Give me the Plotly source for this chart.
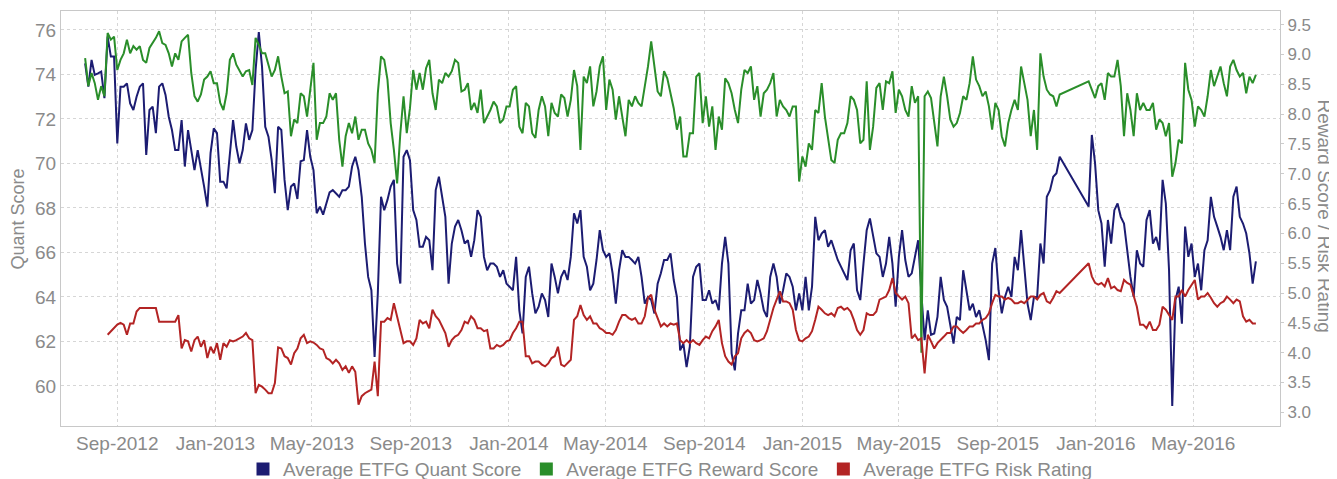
import pandas as pd
import plotly.graph_objects as go

# Sample dates (every 4 days, Jul 2012 - Jul 2016)
dates = pd.date_range("2012-07-23", periods=365, freq="4D")

GAP = [None] * 8  # no data late Nov - mid Dec 2015

quant_score = [
    74.5, 73.45, 74.65, 73.98, 74.05, 74.13, 72.93, 75.7, 74.8, 74.8,
    70.9, 73.45, 73.45, 73.6, 72.7, 72.4, 73.0, 73.45, 73.6, 70.38,
    72.4, 72.55, 71.36, 73.45, 73.6, 73.08, 72.1, 71.5, 70.6, 70.6,
    71.95, 69.86, 71.5, 70.6, 69.7, 70.6, 69.86, 68.96, 68.06, 70.46,
    71.58, 71.36, 69.18, 69.18, 68.88, 70.46, 71.95, 70.76, 70.0, 70.6,
    71.8, 71.06, 71.5, 74.2, 75.9, 74.35, 71.65, 71.2, 70.16, 68.66,
    71.65, 71.5, 69.26,
    67.9, 68.96, 69.1, 68.4, 70.1, 70.15, 71.5, 70.3, 69.7, 67.76,
    68.06, 67.7, 68.2, 68.7, 68.8, 68.66, 68.5, 68.8, 68.8, 68.96,
    69.86, 70.3, 69.7, 68.5, 66.4, 64.9, 64.3, 61.3, 64.15, 68.5,
    67.9, 68.36, 68.96, 69.26, 65.5, 64.6, 70.3, 70.6, 70.15, 67.9,
    67.46, 66.26, 66.26, 66.7, 66.55, 65.2, 68.8, 69.4, 68.5, 67.6,
    64.6, 66.4, 67.16, 67.46, 67.0, 66.4, 66.55, 65.8, 66.55, 67.9,
    67.6, 65.8,
    65.2, 65.5, 65.5, 65.36, 64.9, 65.2, 64.6, 64.46, 64.3, 65.8,
    63.4, 62.36, 64.9, 65.36, 64.16, 63.26, 63.56, 64.16, 63.86, 63.1,
    65.5, 64.9, 64.16, 64.9, 65.2, 64.76, 65.8, 67.76, 67.3, 67.9,
    65.8, 65.36, 64.3, 64.6, 65.66, 67.0, 66.1, 65.8, 65.96, 65.06,
    63.7, 65.2, 66.1, 65.8, 65.8, 65.66, 65.5, 65.8, 64.9, 63.7,
    64.0, 63.86, 63.26, 64.6, 65.06, 65.66, 65.66, 65.96, 64.76, 64.0,
    61.6, 61.9,
    60.85, 61.76, 64.9, 65.36, 65.5, 63.86, 63.86, 64.3, 63.7, 63.86,
    63.4, 65.5, 66.7, 65.5, 61.46, 60.7, 62.36, 63.4, 63.4, 64.6,
    63.7, 63.86, 64.76, 64.16, 63.4, 63.1, 64.9, 65.5, 64.9, 63.7,
    64.3, 65.06, 64.9, 64.46, 63.4, 64.16, 63.4, 64.9, 63.4, 64.46,
    67.6, 66.55, 66.85, 67.0, 66.25, 66.55, 66.1, 65.66, 65.36, 65.06,
    64.76, 66.1, 66.4, 64.3, 63.86, 65.5, 67.0, 67.53, 66.7, 65.96,
    65.8, 64.9,
    65.5, 66.7, 65.5, 63.56, 65.8, 67.0, 65.66, 64.9, 65.06, 65.8,
    66.55, 64.16, 62.06, 63.4, 62.3, 62.36, 63.1, 64.9, 63.86, 63.56,
    62.66, 61.9, 63.1, 62.96, 65.2, 64.3, 63.4, 63.7, 63.1, 63.4,
    62.8, 62.06, 61.16, 65.5, 66.2, 64.3, 63.26, 64.0, 64.46, 64.0,
    65.8, 65.2, 67.0, 65.2, 63.7, 62.96, 64.0, 64.0, 66.4, 65.5,
    68.5, 68.8, 69.4, 69.56, 70.3,
] + GAP + [
    68.06, 71.28, 70.0, 67.9, 67.3, 65.36, 67.46, 66.4, 67.9, 68.2,
    67.6, 67.3, 66.1, 64.9, 64.0, 66.1, 65.5, 65.36, 67.46, 67.9,
    66.4, 66.7, 66.1, 69.26, 68.2, 65.2, 59.1, 63.86, 64.46, 62.8,
    67.16, 65.8, 66.4, 64.9, 65.5, 64.3, 66.1, 66.55, 68.5, 67.6,
    67.16, 66.7, 66.1, 67.0, 66.1, 68.5, 68.96, 67.6, 67.3, 66.85,
    65.96, 64.6, 65.6,
]

reward_score = [
    8.94, 8.47, 8.69, 8.52, 8.24, 8.47, 8.3, 9.36, 9.25, 9.3,
    8.74, 8.91, 9.02, 9.25, 9.02, 9.14, 9.08, 9.14, 8.91, 8.86,
    9.11, 9.19, 9.28, 9.39, 9.19, 9.16, 9.02, 8.8, 9.02, 8.91,
    9.22, 9.28, 9.33, 8.69, 8.3, 8.21, 8.33, 8.58, 8.63, 8.72,
    8.52, 8.52, 8.19, 8.07, 8.35, 8.91, 9.02, 8.83, 8.72, 8.63,
    8.72, 8.74, 8.49, 9.28, 9.16, 9.02, 9.02, 8.8, 8.63, 8.74,
    8.97, 8.63, 8.35,
    8.38, 7.63, 7.91, 7.85, 8.35, 8.3, 7.96, 8.41, 8.86, 7.57,
    7.85, 7.85, 7.96, 8.35, 8.24, 8.35, 7.57, 7.12, 7.63, 7.85,
    7.68, 7.96, 7.57, 7.74, 7.74, 7.51, 7.4, 7.18, 8.35, 8.97,
    8.91, 8.58, 7.85, 7.4, 6.84, 7.68, 8.3, 7.68, 8.1, 8.74,
    8.41, 8.69, 8.41, 8.77, 8.91, 8.35, 8.07, 8.58, 8.52, 8.69,
    8.63, 8.72, 8.91, 8.86, 8.38, 8.41, 8.52, 8.07, 8.19, 8.02,
    8.41, 7.85,
    7.96, 8.07, 8.21, 8.13, 7.85, 7.91, 8.13, 8.13, 8.41, 8.47,
    7.79, 7.68, 8.19, 8.13, 7.68, 7.6, 8.07, 8.3, 8.13, 7.63,
    8.19, 8.02, 7.96, 8.33, 8.27, 7.96, 8.24, 8.74, 8.47, 7.4,
    8.63, 8.52, 8.8, 8.13, 8.38, 8.8, 8.97, 8.07, 8.58, 8.41,
    7.91, 8.3, 7.96, 7.63, 8.24, 8.13, 8.3, 8.19, 8.13, 8.47,
    8.8, 9.22, 8.8, 8.38, 8.3, 8.72, 8.6, 8.33, 8.1, 7.74,
    7.96, 7.29,
    7.29, 7.68, 7.68, 8.63, 8.69, 7.85, 8.3, 7.79, 8.13, 7.4,
    7.96, 7.74, 8.6, 8.52, 8.35, 8.07, 7.85, 8.41, 8.74, 8.69,
    8.8, 8.24, 8.47, 7.96, 8.35, 8.41, 8.52, 8.69, 7.96, 8.24,
    8.13, 8.07, 7.96, 8.13, 8.13, 6.87, 7.29, 7.12, 7.51, 7.4,
    8.07, 8.02, 8.52, 7.96, 7.63, 7.23, 7.18, 7.57, 7.68, 7.68,
    7.85, 8.3, 8.24, 8.07, 7.51, 7.57, 8.55, 7.4, 7.79, 8.44,
    8.52, 8.07,
    8.55, 8.52, 8.72, 8.02, 8.41, 8.3, 8.07, 7.96, 8.47, 8.19,
    8.3, 4.0, 8.3, 8.38, 8.27, 7.85, 7.46, 8.3, 8.63, 8.3,
    7.91, 7.79, 7.85, 8.02, 8.3, 8.24, 8.52, 8.97, 8.58, 8.47,
    8.3, 8.38, 8.13, 7.74, 8.19, 8.07, 7.63, 7.46, 7.85, 8.07,
    8.24, 8.07, 8.8, 8.52, 8.24, 7.63, 8.07, 7.4, 9.02, 8.63,
    8.41, 8.33, 8.3, 8.13, 8.33,
] + GAP + [
    8.55, 8.41, 8.27, 8.47, 8.52, 8.24, 8.69, 8.63, 8.63, 8.91,
    8.47, 7.63, 8.35, 8.07, 7.63, 8.35, 8.07, 8.19, 8.07, 8.07,
    8.19, 7.74, 7.91, 7.85, 7.63, 7.85, 6.95, 7.18, 7.57, 7.51,
    8.86, 8.41, 8.24, 7.79, 8.13, 8.07, 7.96, 8.3, 8.74, 8.47,
    8.63, 8.8, 8.52, 8.3, 8.8, 8.91, 8.74, 8.63, 8.69, 8.35,
    8.63, 8.52, 8.66,
]

risk_rating = [
    None, None, None, None, None, None, None, 4.3, 4.36, 4.41,
    4.47, 4.5, 4.47, 4.3, 4.49, 4.49, 4.69, 4.75, 4.75, 4.75,
    4.75, 4.75, 4.75, 4.52, 4.52, 4.52, 4.52, 4.52, 4.52, 4.63,
    4.07, 4.21, 4.19, 4.02, 4.21, 4.27, 4.1, 4.21, 3.91, 4.1,
    3.99, 4.16, 3.88, 4.16, 4.1, 4.21, 4.19, 4.21, 4.24, 4.27,
    4.33, 4.24, 4.21, 3.32, 3.46, 3.43, 3.38, 3.32, 3.32, 3.49,
    4.09, 4.07, 3.94,
    3.91, 3.8, 3.99, 4.07, 4.24, 4.3, 4.16, 4.19, 4.17, 4.13,
    4.07, 4.05, 3.91, 3.88, 3.82, 3.88, 3.82, 3.71, 3.77, 3.66,
    3.77, 3.68, 3.13, 3.27, 3.32, 3.35, 3.38, 3.85, 3.27, 4.52,
    4.52, 4.58, 4.55, 4.83, 4.61, 4.38, 4.16, 4.19, 4.19, 4.13,
    4.24, 4.55, 4.49, 4.52, 4.41, 4.72, 4.61, 4.55, 4.44, 4.33,
    4.1, 4.21, 4.27, 4.3, 4.38, 4.52, 4.49, 4.61, 4.55, 4.41,
    4.41, 4.36,
    4.38, 4.07, 4.07, 4.13, 4.1, 4.13, 4.19, 4.21, 4.33, 4.41,
    4.52, 4.52, 3.94, 3.94, 3.82, 3.85, 3.85, 3.8, 3.77, 3.82,
    3.91, 3.94, 4.1, 3.8, 3.77, 3.82, 3.88, 4.55, 4.61, 4.8,
    4.63, 4.55, 4.61, 4.49, 4.49, 4.41, 4.38, 4.33, 4.33, 4.3,
    4.38, 4.52, 4.63, 4.63, 4.58, 4.55, 4.58, 4.49, 4.49, 4.61,
    4.92, 4.97, 4.72, 4.58, 4.44, 4.49, 4.44, 4.49, 4.47, 4.49,
    4.21, 4.16,
    4.21, 4.16, 4.21, 4.16, 4.13, 4.21, 4.27, 4.24, 4.36, 4.44,
    4.55, 4.16, 3.94, 3.85, 3.8, 3.94, 3.99, 4.24, 4.33, 4.38,
    4.33, 4.21, 4.19, 4.21, 4.24, 4.36, 4.55, 4.75, 4.89, 5.03,
    4.86, 4.86, 4.83, 4.72, 4.38, 4.21, 4.19, 4.24, 4.27, 4.36,
    4.55, 4.77, 4.72, 4.66, 4.63, 4.66, 4.61, 4.75, 4.77, 4.72,
    4.75, 4.69, 4.55, 4.38, 4.3, 4.38, 4.66, 4.63, 4.63, 4.69,
    4.89, 4.92,
    4.94, 5.05, 5.25, 5.0, 4.94, 4.89, 4.94, 4.83, 4.24, 4.3,
    4.21, 4.24, 3.65, 4.3, 4.19, 4.07, 4.16, 4.21, 4.27, 4.33,
    4.33, 4.44, 4.44, 4.38, 4.33, 4.38, 4.44, 4.44, 4.49, 4.49,
    4.55, 4.58, 4.66, 4.83, 4.97, 4.94, 4.94, 4.89, 4.92, 4.89,
    4.83, 4.83, 4.86, 4.83, 4.89, 4.94, 4.94, 4.89, 4.97, 5.0,
    4.86, 4.83, 4.92, 5.03, 5.0,
] + GAP + [
    5.5, 5.28, 5.17, 5.14, 5.17, 5.11, 5.25, 5.08, 5.11, 5.05,
    5.03, 5.22, 5.17, 5.14, 4.94, 4.77, 4.47, 4.47, 4.41, 4.52,
    4.38, 4.38, 4.47, 4.77, 4.72, 4.63, 4.55, 4.94, 4.94, 5.05,
    4.94, 5.05, 5.14, 5.22, 4.89, 4.94, 4.94, 5.0, 4.92, 4.83,
    4.77, 4.83, 4.86, 4.94, 4.89, 4.83, 4.89, 4.86, 4.61, 4.52,
    4.55, 4.49, 4.49,
]

series_names = ["Average ETFG Quant Score", "Average ETFG Reward Score",
                "Average ETFG Risk Rating"]
BLUE, GREEN, RED = "#1c1c72", "#2a8e2a", "#b32424"
TXT = "#8a8a8a"
FONT = "Liberation Sans, Arial, sans-serif"

fig = go.Figure()
fig.add_trace(go.Scatter(x=dates, y=quant_score, mode="lines", yaxis="y",
                         line=dict(color=BLUE, width=2), connectgaps=True,
                         name=series_names[0], showlegend=False))
fig.add_trace(go.Scatter(x=dates, y=reward_score, mode="lines", yaxis="y2",
                         line=dict(color=GREEN, width=2), connectgaps=True,
                         name=series_names[1], showlegend=False))
fig.add_trace(go.Scatter(x=dates, y=risk_rating, mode="lines", yaxis="y2",
                         line=dict(color=RED, width=2), connectgaps=True,
                         name=series_names[2], showlegend=False))
for nm, col in zip(series_names, [BLUE, GREEN, RED]):
    fig.add_trace(go.Scatter(x=[None], y=[None], mode="markers", name=nm,
                             marker=dict(symbol="square", size=13, color=col),
                             yaxis="y2", showlegend=True))

# figure sits 8px inside the page (default body margin), so it is sized
# to fill the rest of the 1337x479 window
fig.update_layout(
    width=1329, height=471,
    margin=dict(l=53, r=57, t=3, b=53, autoexpand=False),
    paper_bgcolor="white", plot_bgcolor="white",
    font=dict(family=FONT, color=TXT, size=19),
    xaxis=dict(
        type="date", range=["2012-06-23", "2016-08-17"],
        tick0="2012-09-01", dtick="M4", tickformat="%b-%Y",
        showgrid=True, gridcolor="#d6d6d6", griddash="dot", gridwidth=1,
        showline=True, linecolor="#c8c8c8", linewidth=1, mirror=True,
        zeroline=False, ticks="", tickfont=dict(size=19, color=TXT),
        automargin=False,
    ),
    yaxis=dict(
        range=[58.2, 76.85], tick0=60, dtick=2,
        showgrid=True, gridcolor="#d6d6d6", griddash="dot", gridwidth=1,
        showline=True, linecolor="#c8c8c8", linewidth=1, mirror=True,
        zeroline=False, ticks="", tickfont=dict(size=19, color=TXT),
        automargin=False,
    ),
    yaxis2=dict(
        overlaying="y", side="right", range=[2.77, 9.73],
        tick0=3, dtick=0.5, tickformat=".1f", showgrid=False,
        zeroline=False, showline=False, ticks="outside", ticklen=3,
        tickcolor="#cccccc", tickfont=dict(size=17, color=TXT),
        automargin=False,
    ),
    legend=dict(orientation="h", x=0.5, xanchor="center", y=-0.104,
                yanchor="middle", font=dict(size=19, color=TXT),
                itemwidth=30, bgcolor="rgba(0,0,0,0)"),
    annotations=[
        dict(text="Quant Score", xref="paper", yref="paper", x=-0.0353,
             y=0.5, xanchor="center", yanchor="middle", textangle=-90,
             showarrow=False, font=dict(size=18, color=TXT)),
        dict(text="Reward Score / Risk Rating", xref="paper", yref="paper",
             x=1.0369, y=0.505, xanchor="center", yanchor="middle",
             textangle=90, showarrow=False, font=dict(size=19, color=TXT)),
    ],
    hovermode=False,
)

fig.write_html("out.html")
